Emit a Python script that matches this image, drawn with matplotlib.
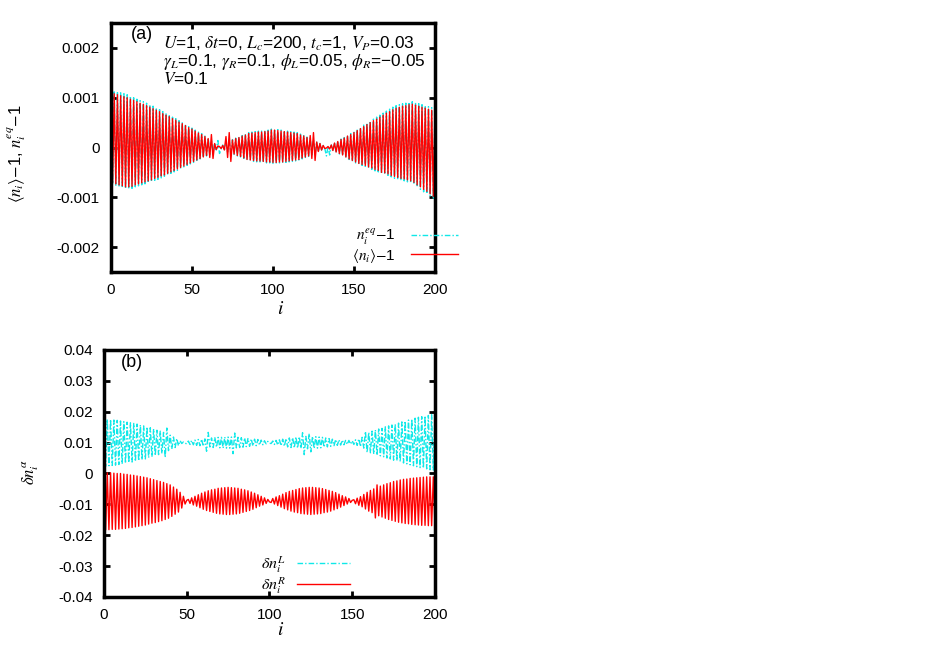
import numpy as np
import matplotlib
matplotlib.use("Agg")
import matplotlib.pyplot as plt

plt.rcParams['font.family'] = ['Liberation Sans', 'DejaVu Sans']
plt.rcParams['mathtext.fontset'] = 'stix'

# sites
sites = np.arange(201)

# panel (a): <n_i>-1 and n_i^eq-1, units of 1e-5
red_a = [110, -71, 108, -73, 106, -75, 104, -77, 102, -79,
         100, -79, 97, -78, 95, -75, 92, -73, 89, -71,
         87, -69, 84, -67, 81, -65, 78, -62, 75, -60,
         72, -57, 68, -55, 65, -52, 62, -49, 58, -46,
         55, -43, 51, -40, 48, -37, 44, -34, 40, -31,
         37, -28, 33, -25, 29, -22, 26, -19, 22, -16,
         18, -20, 26, -22, 8, -4, 3, 2, -2, 4,
         -5, 22, -20, 30, -28, 15, -13, 18, -16, 20,
         -18, 23, -21, 25, -24, 28, -25, 29, -26, 30,
         -27, 31, -27, 31, -28, 32, -29, 33, -29, 35,
         -30, 35, -30, 34, -29, 33, -29, 32, -28, 31,
         -27, 30, -26, 29, -25, 28, -24, 25, -21, 23,
         -19, 20, -17, 24, -22, 30, -26, 11, -8, 8,
         -5, 4, -2, -1, 2, -3, 5, -6, 9, -9,
         12, -12, 16, -15, 19, -19, 23, -23, 26, -26,
         30, -29, 34, -32, 38, -34, 42, -36, 46, -39,
         50, -41, 54, -44, 57, -46, 61, -50, 65, -51,
         69, -53, 72, -56, 76, -58, 79, -60, 81, -62,
         83, -63, 84, -65, 86, -67, 87, -70, 85, -75,
         83, -79, 81, -84, 79, -88, 77, -93, 75, -98,
         73]
cyan_a = [116, -74, 114, -77, 112, -79, 110, -81, 108, -83,
          106, -83, 103, -82, 100, -79, 97, -77, 94, -75,
          92, -73, 89, -71, 86, -69, 83, -66, 80, -64,
          76, -61, 72, -58, 69, -55, 66, -52, 61, -49,
          58, -46, 54, -42, 51, -39, 47, -36, 42, -33,
          39, -30, 35, -26, 31, -23, 28, -20, 23, -17,
          19, -14, 14, -10, 9, -5, 14, -12, -3, 5,
          -6, 9, -9, 12, -11, 16, -14, 19, -17, 21,
          -19, 24, -22, 27, -25, 30, -26, 31, -28, 32,
          -29, 33, -29, 33, -30, 34, -31, 35, -31, 37,
          -32, 37, -32, 36, -31, 35, -31, 34, -30, 33,
          -29, 32, -28, 31, -27, 30, -25, 27, -23, 24,
          -20, 21, -18, 19, -15, 16, -12, 12, -9, 8,
          -5, 4, -2, -17, 2, -15, 5, -7, 10, -10,
          13, -13, 17, -16, 20, -20, 24, -24, 28, -28,
          32, -31, 36, -34, 40, -36, 45, -38, 49, -41,
          53, -44, 57, -47, 61, -49, 65, -53, 69, -54,
          73, -56, 77, -59, 81, -62, 84, -64, 86, -66,
          88, -67, 89, -69, 91, -71, 92, -74, 90, -79,
          88, -84, 86, -89, 84, -93, 82, -98, 80, -103,
          78]

# panel (b): delta n_i^L and delta n_i^R, units of 1e-4
cyan_b = [177, 23, 176, 25, 175, 26, 173, 27, 172, 29,
          170, 31, 168, 33, 166, 35, 164, 37, 162, 39,
          160, 41, 157, 44, 154, 47, 151, 51, 148, 54,
          144, 58, 140, 61, 137, 65, 133, 52, 147, 74,
          124, 79, 118, 84, 113, 90, 106, 97, 102, 98,
          96, 105, 94, 107, 93, 108, 91, 110, 90, 111,
          88, 112, 72, 133, 86, 115, 84, 116, 85, 117,
          83, 117, 82, 118, 82, 118, 82, 118, 64, 131,
          83, 117, 84, 116, 85, 115, 87, 113, 88, 112,
          89, 111, 90, 110, 92, 108, 93, 106, 96, 104,
          98, 97, 105, 94, 107, 92, 109, 90, 111, 88,
          113, 86, 115, 84, 116, 83, 118, 82, 119, 81,
          132, 61, 120, 80, 129, 70, 120, 81, 119, 82,
          118, 83, 117, 85, 115, 86, 113, 88, 111, 90,
          110, 91, 109, 92, 108, 93, 107, 94, 107, 95,
          106, 94, 109, 91, 112, 87, 117, 82, 136, 68,
          133, 67, 137, 63, 141, 59, 144, 57, 146, 54,
          151, 50, 154, 47, 157, 43, 160, 41, 163, 38,
          167, 34, 170, 31, 173, 28, 176, 25, 179, 22,
          182, 19, 184, 17, 186, 15, 188, 12, 190, 11,
          192]
red_b = [3, -183, 2, -182, 2, -181, 1, -181, 0, -180,
         0, -179, -2, -178, -3, -176, -5, -175, -6, -173,
         -8, -171, -10, -169, -12, -167, -14, -164, -17, -161,
         -20, -159, -23, -156, -26, -153, -29, -149, -33, -145,
         -37, -139, -44, -132, -51, -125, -61, -112, -74, -99,
         -87, -84, -97, -79, -102, -74, -106, -69, -111, -64,
         -116, -60, -120, -56, -123, -53, -126, -51, -129, -48,
         -131, -47, -132, -46, -133, -45, -133, -46, -132, -47,
         -131, -48, -129, -51, -126, -53, -123, -56, -120, -60,
         -116, -64, -111, -69, -106, -74, -102, -79, -97, -84,
         -92, -94, -81, -99, -76, -104, -72, -109, -67, -114,
         -62, -118, -58, -122, -55, -125, -52, -127, -49, -130,
         -47, -131, -46, -132, -45, -133, -45, -132, -46, -131,
         -47, -130, -49, -127, -52, -125, -55, -122, -58, -118,
         -62, -114, -67, -109, -72, -104, -76, -99, -81, -94,
         -87, -85, -98, -80, -103, -75, -108, -68, -115, -61,
         -122, -55, -127, -50, -144, -37, -137, -41, -141, -37,
         -145, -33, -149, -30, -152, -26, -155, -24, -158, -21,
         -160, -19, -162, -18, -163, -16, -165, -15, -166, -14,
         -167, -13, -168, -12, -168, -11, -169, -11, -169, -11,
         -169]

xticks = [0, 50, 100, 150, 200]
yticks_a = [-0.002, -0.001, 0, 0.001, 0.002]
yticklabels_a = ['-0.002', '-0.001', '0', '0.001', '0.002']
yticks_b = [-0.04, -0.03, -0.02, -0.01, 0, 0.01, 0.02, 0.03, 0.04]
yticklabels_b = ['-0.04', '-0.03', '-0.02', '-0.01', '0', '0.01', '0.02', '0.03', '0.04']

CYAN = '#10e8e8'
RED = '#ff0000'
FS = 11
dashdot = (0, (4, 1.5, 1, 1.5))

fig = plt.figure(figsize=(9.34, 6.54), dpi=100)
ax1 = fig.add_axes([0.1188, 0.5841, 0.3469, 0.3807])
ax2 = fig.add_axes([0.1113, 0.0872, 0.3544, 0.3777])

def style(ax):
    for s in ax.spines.values():
        s.set_linewidth(2.5)
    ax.tick_params(direction='in', top=True, right=True, length=4.5, width=2.0,
                   labelsize=FS, pad=8)
    ax.set_xlim(0, 200)
    ax.set_xticks(xticks)

# (a)
ax1.plot(sites, np.array(cyan_a) * 1e-5, color=CYAN, lw=1.0, ls=dashdot,
         label=r'$n_i^{eq}$$-$1')
ax1.plot(sites, np.array(red_a) * 1e-5, color=RED, lw=1.0, label=r'$\langle n_i\rangle$$-$1')
style(ax1)
ax1.set_ylim(-0.0025, 0.0025)
ax1.set_yticks(yticks_a)
ax1.set_yticklabels(yticklabels_a)
ax1.set_xlabel(r'$i$', fontsize=FS + 3)
ax1.xaxis.set_label_coords(0.525, -0.115)
ax1.set_ylabel(r'$\langle n_i\rangle$$-$1, $n_i^{eq}$$-$1', fontsize=FS + 1)
ax1.yaxis.set_label_coords(-0.255, 0.476)
ax1.text(0.062, 0.955, '(a)', transform=ax1.transAxes, fontsize=13, va='center')
ax1.text(0.16, 0.955,
         '$U$=1, $\\delta t$=0, $L_c$=200, $t_c$=1, $V_P$=0.03\n'
         '$\\gamma_L$=0.1, $\\gamma_R$=0.1, $\\phi_L$=0.05, $\\phi_R$=\u22120.05\n'
         '$V$=0.1',
         transform=ax1.transAxes, fontsize=12.4, va='top', ha='left', linespacing=0.95)
ax1.legend(loc='lower right', bbox_to_anchor=(1.09, 0.005), markerfirst=False, frameon=False,
           fontsize=FS, handlelength=3.1, handletextpad=1.0, labelspacing=0.0,
           borderaxespad=0)

# (b)
ax2.plot(sites, np.array(cyan_b) * 1e-4, color=CYAN, lw=1.0, ls=dashdot,
         label=r'$\delta n_i^L$')
ax2.plot(sites, np.array(red_b) * 1e-4, color=RED, lw=1.0, label=r'$\delta n_i^R$')
style(ax2)
ax2.set_ylim(-0.04, 0.04)
ax2.set_yticks(yticks_b)
ax2.set_yticklabels(yticklabels_b)
ax2.set_xlabel(r'$i$', fontsize=FS + 3)
ax2.xaxis.set_label_coords(0.535, -0.10)
ax2.set_ylabel(r'$\delta n_i^{\alpha}$', fontsize=FS + 1)
ax2.yaxis.set_label_coords(-0.19, 0.506)
ax2.text(0.05, 0.95, '(b)', transform=ax2.transAxes, fontsize=13, va='center')
ax2.legend(loc='lower left', bbox_to_anchor=(0.455, -0.02), markerfirst=False, frameon=False,
           fontsize=FS + 0.5, handlelength=3.3, handletextpad=0.7, labelspacing=0.0,
           borderaxespad=0)

fig.savefig('out.png', dpi=100)
